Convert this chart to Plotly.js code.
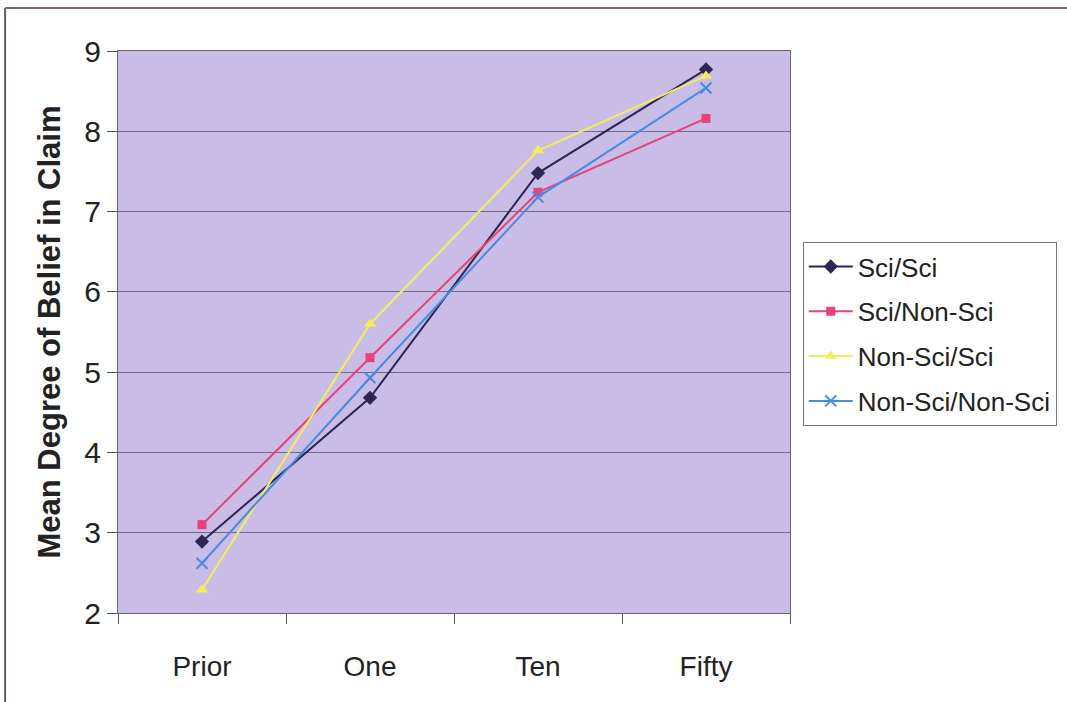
<!DOCTYPE html>
<html>
<head>
<meta charset="utf-8">
<script src="https://cdn.plot.ly/plotly-3.0.1.min.js"></script>
<style>html,body{margin:0;padding:0;background:#fff;}#chart{width:1067px;height:702px;}</style>
</head>
<body>
<div id="chart"></div>
<script>
const categories = ["Prior", "One", "Ten", "Fifty"];
const sciSci = [2.89, 4.68, 7.48, 8.77];
const sciNonSci = [3.10, 5.18, 7.24, 8.16];
const nonSciSci = [2.29, 5.60, 7.76, 8.69];
const nonSciNonSci = [2.62, 4.93, 7.18, 8.54];
const seriesNames = ["Sci/Sci", "Sci/Non-Sci", "Non-Sci/Sci", "Non-Sci/Non-Sci"];
const yTicks = [2, 3, 4, 5, 6, 7, 8, 9];

const styles = [
  {color: "#2d2552", symbol: "diamond", size: 11},
  {color: "#e8417c", symbol: "square", size: 9},
  {color: "#f2ee5a", symbol: "triangle-up", size: 11},
  {color: "#4a8ae0", symbol: "x-thin-open", size: 11}
];
const values = [sciSci, sciNonSci, nonSciSci, nonSciNonSci];

const traces = values.map((v, i) => ({
  type: "scatter",
  mode: "lines+markers",
  name: seriesNames[i],
  legendgroup: "g" + i,
  x: categories,
  y: v,
  line: {color: styles[i].color, width: 2},
  marker: {color: styles[i].color, symbol: styles[i].symbol, size: styles[i].size,
           line: {color: styles[i].color, width: styles[i].symbol === "x-thin-open" ? 2 : 0}}
}));

const layout = {
  width: 1067, height: 702,
  margin: {l: 118, r: 277, t: 51, b: 89, autoexpand: false},
  paper_bgcolor: "#ffffff",
  plot_bgcolor: "#c9bde8",
  font: {family: "Arial, 'Liberation Sans', sans-serif", color: "#222", size: 28},
  showlegend: true,
  legend: {
    x: 1.019, xanchor: "left", y: 0.66, yanchor: "top",
    bordercolor: "#777", borderwidth: 1, bgcolor: "#ffffff",
    font: {size: 26, color: "#222"},
    itemwidth: 44,
    tracegroupgap: 8
  },
  xaxis: {
    type: "category",
    range: [-0.5, 3.5],
    tickson: "boundaries",
    ticks: "outside", ticklen: 10, tickcolor: "#555",
    showgrid: false,
    showline: true, linecolor: "#666", linewidth: 1, mirror: true,
    ticklabelstandoff: 28,
    tickfont: {size: 28, color: "#222"}
  },
  yaxis: {
    range: [2, 9],
    tickvals: yTicks,
    ticks: "outside", ticklen: 10, tickcolor: "#555",
    showgrid: true, gridcolor: "#6e6a80", gridwidth: 1,
    showline: true, linecolor: "#666", linewidth: 1, mirror: true,
    zeroline: false,
    tickfont: {size: 30, color: "#222"},
    title: {text: "Mean Degree of Belief in Claim", font: {size: 31, color: "#222", family: "Arial, 'Liberation Sans', sans-serif", weight: "bold"}, standoff: 14}
  },
  shapes: [
    {type: "line", xref: "paper", yref: "paper", x0: -0.168, x1: -0.168, y0: 1.0765, y1: -0.2, line: {color: "#6b5a5a", width: 2}},
    {type: "line", xref: "paper", yref: "paper", x0: -0.168, x1: 1.45, y0: 1.0765, y1: 1.0765, line: {color: "#7a6a6a", width: 2}}
  ]
};

Plotly.newPlot("chart", traces, layout, {displayModeBar: false, staticPlot: true});
</script>
</body>
</html>
